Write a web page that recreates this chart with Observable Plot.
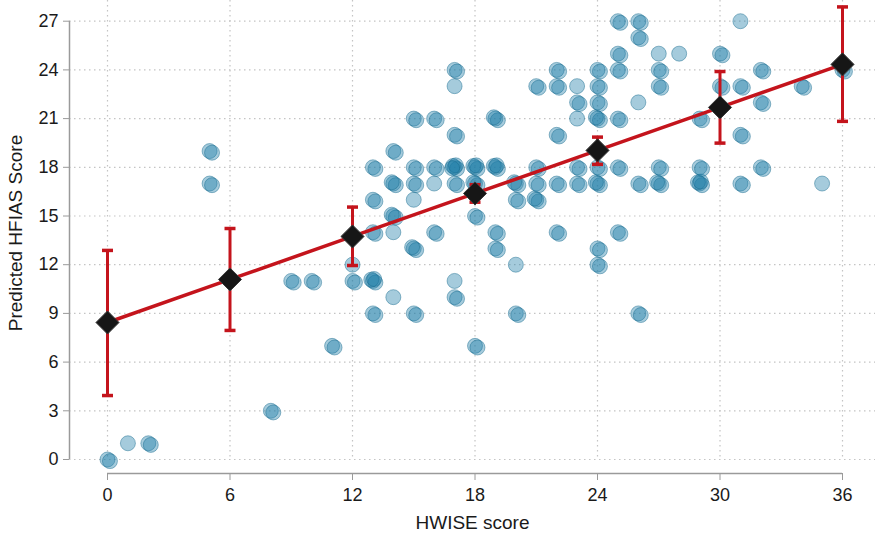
<!DOCTYPE html>
<html><head><meta charset="utf-8">
<script src="https://cdn.jsdelivr.net/npm/d3@7"></script>
<script src="https://cdn.jsdelivr.net/npm/@observablehq/plot@0.6"></script>
<style>body{margin:0;background:#fff}</style>
</head><body><div id="chart"></div>
<script>
const xTicks = [0, 6, 12, 18, 24, 30, 36];
const yTicks = [0, 3, 6, 9, 12, 15, 18, 21, 24, 27];
const xLabel = "HWISE score";
const yLabel = "Predicted HFIAS Score";

// observed responses: HWISE score, HFIAS score, number of overlapping responses
const obsX = [0,1,2,5,5,8,9,10,11,12,12,13,13,13,13,13,14,14,14,14,14,15,15,15,15,15,15,16,16,16,16,17,17,17,17,17,17,17,18,18,18,18,19,19,19,19,20,20,20,20,21,21,21,21,22,22,22,22,22,23,23,23,23,23,24,24,24,24,24,24,24,24,25,25,25,25,25,25,26,26,26,26,26,27,27,27,27,27,28,29,29,29,30,30,31,31,31,31,32,32,32,34,35,36];
const obsY = [0,1,1,19,17,3,11,11,7,12,11,11,9,14,16,18,10,14,15,17,19,9,13,16,17,18,21,14,17,18,21,10,11,17,18,20,23,24,7,15,17,18,13,14,18,21,9,12,16,17,16,17,18,23,14,17,20,23,24,17,18,21,22,23,12,13,17,18,21,22,23,24,14,18,21,24,25,27,9,17,22,26,27,17,18,23,24,25,25,17,18,21,23,25,17,20,23,27,18,22,24,23,17,24];
const obsN = [2,1,2,2,2,2,2,2,2,1,2,4,2,2,2,2,1,1,3,3,2,2,3,1,2,2,2,2,1,2,2,2,1,2,5,2,1,2,2,2,3,4,2,2,4,3,2,1,2,3,3,2,2,2,2,2,2,2,2,2,2,1,2,1,2,2,3,2,3,2,2,2,2,2,2,2,2,2,2,2,1,2,2,3,2,2,2,1,1,4,2,2,2,2,2,2,2,1,2,2,2,2,1,2];

// predicted fit with confidence interval
const fitX = [0, 6, 12, 18, 24, 30, 36];
const fitY = [8.44, 11.09, 13.74, 16.39, 19.04, 21.69, 24.34];
const ciLow = [3.94, 7.95, 11.95, 15.85, 18.18, 19.49, 20.83];
const ciHigh = [12.88, 14.23, 15.55, 16.93, 19.86, 23.9, 27.88];

// small visual offsets so overlapping responses show as stacked rings
const offX = [0, 0.12, -0.08, 0.06, -0.12];
const offY = [0, -0.1, 0.08, 0.12, -0.06];
const points = [];
obsX.forEach((x, i) => {
  for (let k = 0; k < obsN[i]; k++) points.push({x: x + offX[k % 5], y: obsY[i] + offY[k % 5]});
});
const fit = fitX.map((x, i) => ({x, y: fitY[i], lo: ciLow[i], hi: ciHigh[i]}));

const red = "#c4141c";
const cap = {draw(ctx) { ctx.moveTo(-5.5, 0); ctx.lineTo(5.5, 0); }};

const chart = Plot.plot({
  width: 875,
  height: 535,
  marginLeft: 69,
  marginRight: 0,
  marginTop: 0,
  marginBottom: 62,
  style: {fontFamily: "'Liberation Sans', Arial, Helvetica, sans-serif", fontSize: "18px", background: "#fff", color: "#1a1a1a"},
  x: {domain: [xTicks[0], xTicks[xTicks.length - 1]], insetLeft: 38, insetRight: 33},
  y: {domain: [yTicks[0], yTicks[yTicks.length - 1]], insetBottom: 14, insetTop: 20.7},
  marks: [
    Plot.ruleY(yTicks, {stroke: "#c4c4c4", strokeWidth: 1.2, strokeDasharray: "1.5,3.5"}),
    Plot.ruleX(xTicks, {stroke: "#c4c4c4", strokeWidth: 1.2, strokeDasharray: "1.5,3.5", insetBottom: 14}),
    Plot.ruleX([xTicks[0]], {y1: yTicks[0], y2: yTicks[yTicks.length - 1], dx: -38, stroke: "#9a9a9a", strokeWidth: 1.5}),
    Plot.ruleY([yTicks[0]], {x1: xTicks[0], x2: xTicks[xTicks.length - 1], dy: 14, stroke: "#9a9a9a", strokeWidth: 1.5}),
    Plot.axisX({ticks: xTicks, tickSize: 7, tickPadding: 8, stroke: "#9a9a9a", fill: "#1a1a1a", label: null, fontSize: 18}),
    Plot.axisY({ticks: yTicks, tickSize: 6, tickPadding: 5, stroke: "#9a9a9a", fill: "#1a1a1a", label: null, fontSize: 18}),
    Plot.dot(points, {x: "x", y: "y", r: 7.5, fill: "#1d7ea7", fillOpacity: 0.4, stroke: "#14698c", strokeOpacity: 0.45, strokeWidth: 1}),
    Plot.ruleX(fit, {x: "x", y1: "lo", y2: "hi", stroke: red, strokeWidth: 3}),
    Plot.dot(fit, {x: "x", y: "lo", symbol: cap, r: 4, stroke: red, strokeWidth: 3.5, fill: "none"}),
    Plot.dot(fit, {x: "x", y: "hi", symbol: cap, r: 4, stroke: red, strokeWidth: 3.5, fill: "none"}),
    Plot.line(fit, {x: "x", y: "y", stroke: red, strokeWidth: 3.5}),
    Plot.dot(fit, {x: "x", y: "y", symbol: "diamond2", r: 10.4, fill: "#161616", stroke: "#3a3a3a", strokeWidth: 1}),
    Plot.text([xLabel], {frameAnchor: "bottom", dy: 49, lineAnchor: "middle", textAnchor: "middle", fontSize: 19, fill: "#1a1a1a"}),
    Plot.text([yLabel], {frameAnchor: "left", dx: -54, dy: -4, rotate: -90, lineAnchor: "middle", textAnchor: "middle", fontSize: 19, fill: "#1a1a1a"})
  ]
});
document.getElementById("chart").appendChild(chart);
</script>
</body></html>
